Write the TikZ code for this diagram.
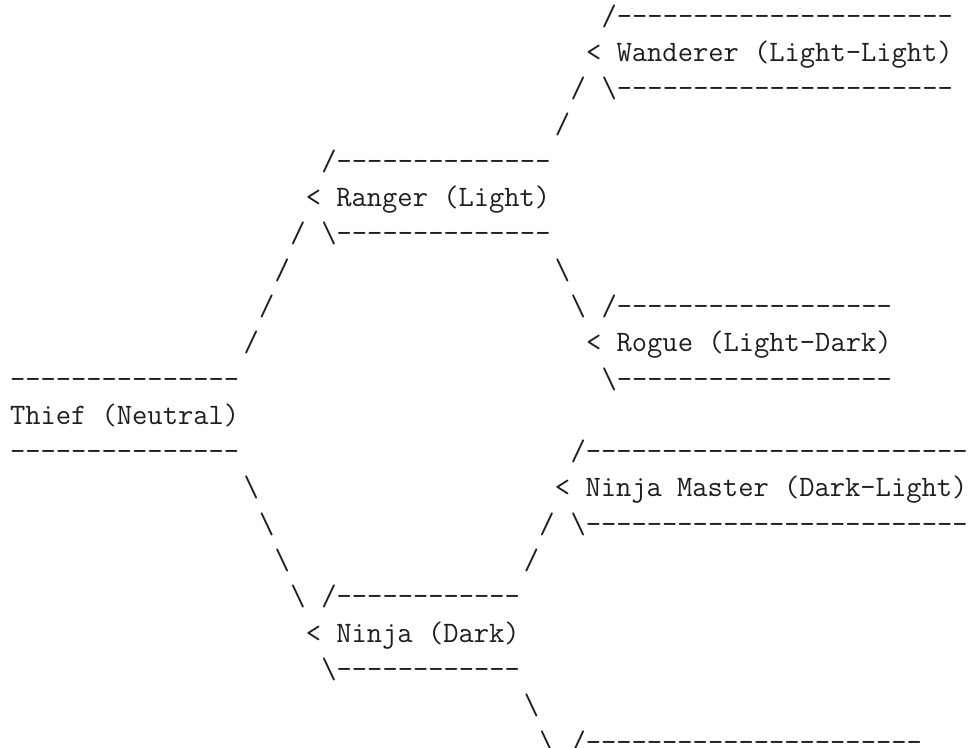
\documentclass[tikz,border=0pt]{standalone}
\usepackage{fontspec}
\usepackage{tikz}
\definecolor{asciiink}{HTML}{1E1E1E}

% one character cell of the text grid
\newcommand\colw{15.57}
\newcommand\rowh{36.3}
\newcommand\bs{\textbackslash}
\newcommand\dashrun[1]{\foreach \dd in {1,...,#1}{-}}
% \cell{name}{column}{row}{text}
\newcommand\cell[4]{\node[tty] (#1) at ({10+\colw*#2},{25+\rowh*(#3-1)}) {#4};}

\begin{document}
\begin{tikzpicture}[x=1pt, y=-1pt,
  tty/.style={anchor=base west, inner sep=0pt, outer sep=0pt, text=asciiink,
    font=\ttfamily\fontsize{29.66}{36}\selectfont}]
  \useasboundingbox (0,0) rectangle (973,747);

  % Thief (Neutral)
  \cell{thief-top}{0}{11}{\dashrun{15}}
  \cell{thief}{0}{12}{Thief (Neutral)}
  \cell{thief-bot}{0}{13}{\dashrun{15}}

  % up to Ranger
  \cell{tr1}{15}{10}{/}
  \cell{tr2}{16}{9}{/}
  \cell{tr3}{17}{8}{/}
  \cell{tr4}{18}{7}{/}
  \cell{ranger-top}{20}{5}{/\dashrun{14}}
  \cell{ranger}{19}{6}{< Ranger (Light)}
  \cell{ranger-bot}{20}{7}{\bs\dashrun{14}}

  % Ranger -> Wanderer
  \cell{rw1}{35}{4}{/}
  \cell{rw2}{36}{3}{/}
  \cell{wanderer-top}{38}{1}{/\dashrun{22}}
  \cell{wanderer}{37}{2}{< Wanderer (Light-Light)}
  \cell{wanderer-bot}{38}{3}{\bs\dashrun{22}}

  % Ranger -> Rogue
  \cell{rr1}{35}{8}{\bs}
  \cell{rr2}{36}{9}{\bs}
  \cell{rogue-top}{38}{9}{/\dashrun{18}}
  \cell{rogue}{37}{10}{< Rogue (Light-Dark)}
  \cell{rogue-bot}{38}{11}{\bs\dashrun{18}}

  % down to Ninja
  \cell{tn1}{15}{14}{\bs}
  \cell{tn2}{16}{15}{\bs}
  \cell{tn3}{17}{16}{\bs}
  \cell{tn4}{18}{17}{\bs}
  \cell{ninja-top}{20}{17}{/\dashrun{12}}
  \cell{ninja}{19}{18}{< Ninja (Dark)}
  \cell{ninja-bot}{20}{19}{\bs\dashrun{12}}

  % Ninja -> Ninja Master
  \cell{nm1}{33}{16}{/}
  \cell{nm2}{34}{15}{/}
  \cell{master-top}{36}{13}{/\dashrun{25}}
  \cell{master}{35}{14}{< Ninja Master (Dark-Light)}
  \cell{master-bot}{36}{15}{\bs\dashrun{25}}

  % Ninja -> next branch, cut off at the bottom edge
  \cell{nx1}{33}{20}{\bs}
  \cell{nx2}{34}{21}{\bs}
  \cell{next-top}{36}{21}{/\dashrun{22}}
\end{tikzpicture}
\end{document}
